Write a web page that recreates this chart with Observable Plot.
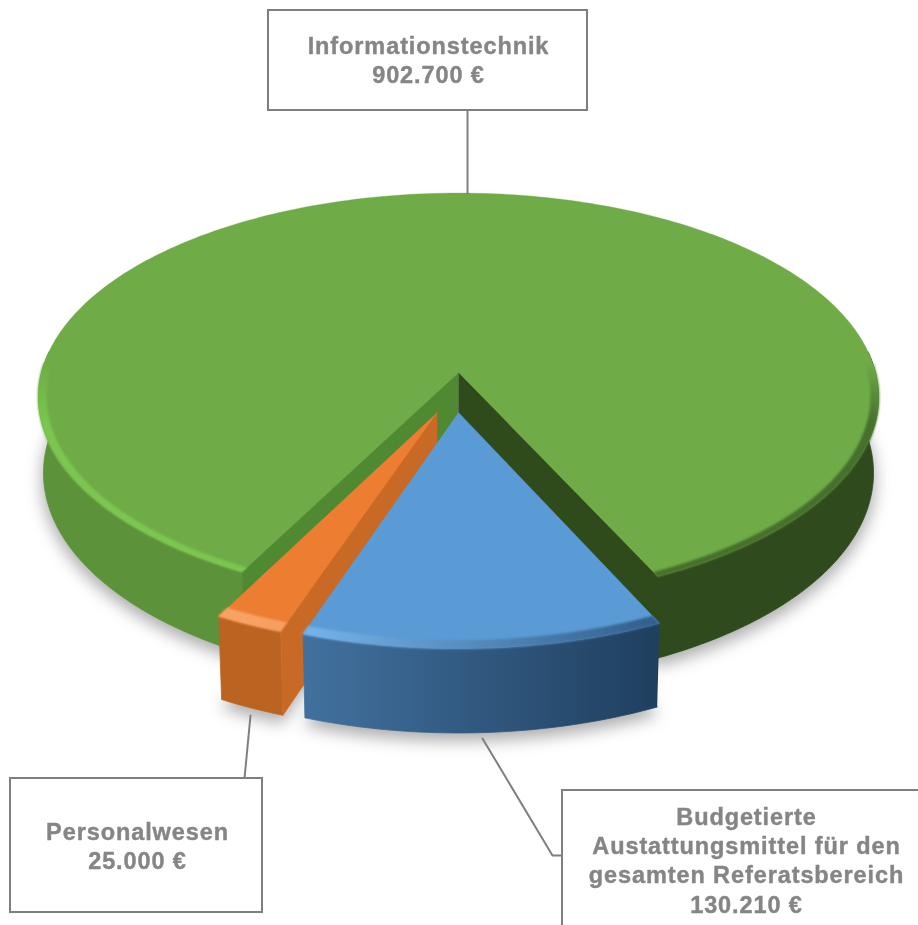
<!DOCTYPE html>
<html><head><meta charset="utf-8">
<script src="https://cdn.jsdelivr.net/npm/d3@7"></script>
<script src="https://cdn.jsdelivr.net/npm/@observablehq/plot@0.6"></script>
<style>
html,body{margin:0;padding:0;background:#fff;overflow:hidden}
svg{display:block}
.shadow{filter:blur(8px)}
.soft{filter:blur(.5px)}
.rim{filter:blur(1.3px)}
.label{letter-spacing:.9px;filter:blur(.35px)}
.callout{filter:blur(.3px)}
</style></head><body><div id="chart"></div>
<script>
// values
const categories = ["Budgetierte\nAustattungsmittel für den\ngesamten Referatsbereich", "Personalwesen", "Informationstechnik"];
const amounts = [130210, 25000, 902700];
// slice look
const topColors = ["#5b9bd5", "#ed7d31", "#6fac47"];
const wallLeft = ["#42719f", "#bb6321", "#5c9239"];
const wallRight = ["#1f3f5e", "#bb6321", "#2f4a1c"];
const rimLeft = ["#7cbcf2", "#f8a365", "#7cc651"];
const rimRight = ["#2f5b88", "#d9722c", "#466f2c"];
const faceColors = [null, "#c86a25", null];
const explodeU = [0, -0.05, 0];
const explodeV = [0.194, 0.194, 0];
const radii = [0.985, 0.975, 1];
const rimWidth = [0.03, 0.035, 0.018];
const firstAngle = 154.8;
// callouts
const boxX1 = [562, 10, 268], boxX2 = [925, 262, 587], boxY1 = [790, 778, 10], boxY2 = [935, 912, 110];
const textX = [746, 137, 428], textY = [859, 845, 59];
const leaders = [[[482,738],[552,855],[562,855]], [[250,715],[244,778]], [[467,110],[467,193]]];

// view of the pie plane
const cx = 458, cy = 372, R = 417, Yk = 201, P = 0.12;
const proj = (u, v, low) => {
  const w = 1 - P * v;
  let X = cx + R * u / w, Y = cy + Yk * v / w;
  if (low) { X = cx + (X - cx) * 0.988; Y += 75 + 8 * v; }
  return {x: X, y: Y};
};
const total = d3.sum(amounts);
let a0 = firstAngle;
const slices = amounts.map((d, i) => {
  const s = {i, a: a0, b: a0 + d / total * 360, r: radii[i]};
  a0 = s.b;
  return s;
});
const pt = (s, deg, k, low) => {
  const t = deg * Math.PI / 180;
  return proj(explodeU[s.i] + s.r * k * Math.sin(t), explodeV[s.i] - s.r * k * Math.cos(t), low);
};
const apex = (s, low) => proj(explodeU[s.i], explodeV[s.i], low);
const degrees = (a, b) => d3.range(a, b, 1).concat([b]);
const arc = (s, k, low) => degrees(s.a, s.b).map(d => pt(s, d, k, low));
const clamp = x => Math.max(0, Math.min(1, x));
let nid = 0;
const poly = (pts, c) => { const id = nid++; return pts.map(p => ({...p, id, c})); };

const layer = (rows, cls, sw = 0.8) => Plot.line(rows, {x: "x", y: "y", z: "id", fill: "c", stroke: "c", strokeWidth: sw, className: cls});

// smooth left-to-right shading of the walls
const defs = () => {
  const d = d3.create("svg:defs");
  slices.forEach(s => {
    const x1 = s.i === 2 ? cx - 20 : pt(s, s.b, 1).x, x2 = s.i === 2 ? cx + 20 : pt(s, s.a, 1).x;
    const g = d.append("linearGradient").attr("id", "wall" + s.i).attr("gradientUnits", "userSpaceOnUse")
      .attr("x1", x1).attr("x2", x2).attr("y1", 0).attr("y2", 0);
    g.append("stop").attr("offset", 0).attr("stop-color", wallLeft[s.i]);
    g.append("stop").attr("offset", 1).attr("stop-color", wallRight[s.i]);
  });
  return d.node();
};

// one slice: wall, visible cut faces, top, rim
const sliceMarks = s => {
  const i = s.i, walls = [], rims = [], faces = [];
  const spans = i === 2 ? [[s.a, 276], [444, s.b]] : [[s.a, s.b]];
  for (const [p, q] of spans) {
    const ds = degrees(p, q);
    walls.push(...poly([...ds.map(d => pt(s, d, 1, false)), ...ds.slice().reverse().map(d => pt(s, d, 1, true))], `url(#wall${i})`));
  }
  const degs = degrees(s.a, s.b);
  const rimScale = i === 2 ? (x => clamp((x + 0.1) / 0.2)) : (x => clamp((x + 0.4) / 0.85));
  const rc = d3.interpolateRgb(rimLeft[i], rimRight[i]);
  for (let j = 0; j < degs.length - 1; ++j) {
    const a = degs[j], b = degs[j + 1], m = (a + b) / 2 * Math.PI / 180;
    const vis = clamp((-Math.cos(m) + 0.05) / 0.3);
    if (vis > 0) {
      const col = d3.interpolateRgb(topColors[i], rc(rimScale(Math.sin(m))))(vis);
      rims.push(...poly([pt(s, a, 1.001), pt(s, b, 1.001), pt(s, b, 1 - rimWidth[i]), pt(s, a, 1 - rimWidth[i])], col));
    }
  }
  if (i === 2) {
    faces.push(...poly([apex(s), pt(s, s.a, 1), pt(s, s.a, 1, true), apex(s, true)], "#4f8a33"));
    faces.push(...poly([apex(s), pt(s, s.b, 1), pt(s, s.b, 1, true), apex(s, true)], "#2f4a1b"));
  }
  if (i === 1) {
    faces.push(...poly([apex(s), pt(s, s.a, 1), pt(s, s.a, 1, true), apex(s, true)], faceColors[1]));
  }
  const top = poly([apex(s), ...arc(s, 1)], topColors[i]);
  return [layer(walls, "soft"), layer(faces, "soft"), layer(top, "soft", 0.3), layer(rims, "rim")];
};

const shadow = slices.map(s => Plot.line(
  [apex(s, true), ...arc(s, 1.004, true)].map(p => ({x: p.x, y: p.y + 7})),
  {x: "x", y: "y", fill: "#000", fillOpacity: 0.32, stroke: "none", className: "shadow"}));

const euro = d3.formatLocale({decimal: ",", thousands: ".", grouping: [3], currency: ["", ""]}).format(",");
const labelRows = categories.map((c, i) => ({text: c + "\n" + euro(amounts[i]) + " €", x: textX[i], y: textY[i]}));
const boxRows = boxX1.map((d, i) => ({x1: d, x2: boxX2[i], y1: boxY1[i], y2: boxY2[i]}));
const leaderRows = leaders.flatMap((l, i) => l.map(([x, y]) => ({x, y, i})));

const chart = Plot.plot({
  width: 918, height: 925,
  marginTop: 0, marginRight: 0, marginBottom: 0, marginLeft: 0,
  x: {domain: [0, 918], range: [0, 918], axis: null},
  y: {domain: [0, 925], range: [0, 925], axis: null},
  color: {type: "identity"},
  style: {background: "#fff", overflow: "hidden"},
  marks: [
    defs,
    ...shadow,
    ...sliceMarks(slices[2]),
    ...sliceMarks(slices[1]),
    ...sliceMarks(slices[0]),
    Plot.line(leaderRows, {x: "x", y: "y", z: "i", stroke: "#7f7f7f", strokeWidth: 2, className: "callout"}),
    Plot.rect(boxRows, {x1: "x1", x2: "x2", y1: "y1", y2: "y2", fill: "#fff", stroke: "#7f7f7f", strokeWidth: 2, className: "callout"}),
    Plot.text(labelRows, {x: "x", y: "y", text: "text", fontFamily: "Liberation Sans", fontWeight: 700, fontSize: 23.5, lineHeight: 1.24, fill: "#858585", stroke: "#858585", strokeWidth: 0.4, lineAnchor: "middle", className: "label"})
  ]
});
document.getElementById("chart").appendChild(chart);
</script></body></html>
